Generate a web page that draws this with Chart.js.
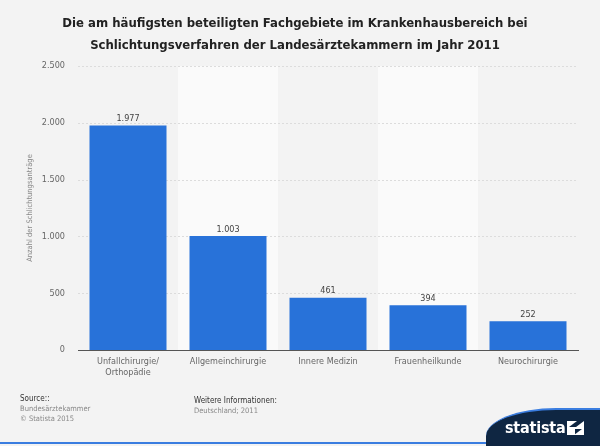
<!DOCTYPE html>
<html><head><meta charset="utf-8">
<script src="https://cdn.jsdelivr.net/npm/chart.js@4"></script>
<style>
html,body{margin:0;padding:0;background:#f3f3f3;}
#wrap{position:relative;width:600px;height:446px;overflow:hidden;font-family:"DejaVu Sans Condensed","DejaVu Sans",sans-serif;}
#title{position:absolute;top:12px;left:0;width:590px;text-align:center;font-weight:bold;font-size:13px;line-height:22px;color:#222;}
canvas{position:absolute;left:0;top:0;}
.ft{position:absolute;font-size:7.5px;color:#888;line-height:10px;}
.ft b{font-weight:normal;color:#333;font-size:8px;}
#bar{position:absolute;left:0;top:442px;width:600px;height:2px;background:#3a7de0;}
#logo{position:absolute;left:486px;top:408px;width:140px;height:40px;background:#0f2642;border-top-left-radius:70px 28px;border-top:2px solid #3a7de0;}
#logotxt{position:absolute;left:505px;top:418px;color:#fff;font-weight:bold;font-size:16px;letter-spacing:-0.2px;}
</style></head>
<body><div id="wrap">
<canvas id="c" width="600" height="446"></canvas>
<div id="title">Die am häufigsten beteiligten Fachgebiete im Krankenhausbereich bei<br>Schlichtungsverfahren der Landesärztekammern im Jahr 2011</div>
<div class="ft" style="left:20px;top:394px;"><b>Source::</b><br>Bundesärztekammer<br>© Statista 2015</div>
<div class="ft" style="left:194px;top:396px;"><b>Weitere Informationen:</b><br>Deutschland; 2011</div>
<div id="bar"></div>
<div id="logo"></div>
<div id="logotxt">statista</div>
<svg style="position:absolute;left:567px;top:421px" width="17" height="14"><polygon points="0,14 0,6 9,6 17,0 17,8 8,8 8,14" fill="#fff"/><polygon points="0,0 10,0 2,6 0,6" fill="#fff"/><polygon points="17,14 7,14 15,8 17,8" fill="#fff"/></svg>
</div>
<script>
const categories = [["Unfallchirurgie/","Orthopädie"],"Allgemeinchirurgie","Innere Medizin","Frauenheilkunde","Neurochirurgie"];
const values = [1977,1003,461,394,252];
const yTicks = [0,500,1000,1500,2000,2500];
const fmt = v => v.toLocaleString('de-DE');
const FONT = 'DejaVu Sans Condensed';

const bandPlugin = {
  id:'bands',
  beforeDatasetsDraw(chart){
    const {ctx, chartArea, scales:{x}} = chart;
    const w = x.getPixelForValue(1)-x.getPixelForValue(0);
    ctx.save();
    ctx.fillStyle='#fafafa';
    for(let i=1;i<categories.length;i+=2){
      const cx=x.getPixelForValue(i);
      ctx.fillRect(cx-w/2, chartArea.top, w, chartArea.bottom-chartArea.top);
    }
    const y=chart.scales.y;
    ctx.strokeStyle='#dcdcdc';ctx.setLineDash([2,2]);ctx.lineWidth=1;
    yTicks.forEach(t=>{ if(t===0)return; const py=Math.round(y.getPixelForValue(t))+0.5; ctx.beginPath();ctx.moveTo(chartArea.left,py);ctx.lineTo(chartArea.right,py);ctx.stroke();});
    ctx.restore();
  }
};
const labelPlugin = {
  id:'vals',
  afterDatasetsDraw(chart){
    const {ctx}=chart;
    const meta=chart.getDatasetMeta(0);
    ctx.save();
    ctx.font='9px "'+FONT+'"';ctx.fillStyle='#444';ctx.textAlign='center';ctx.textBaseline='bottom';
    meta.data.forEach((b,i)=>ctx.fillText(fmt(values[i]),b.x,b.y-2));
    ctx.restore();
  }
};
new Chart(document.getElementById('c'),{
  type:'bar',
  data:{labels:categories,datasets:[{data:values,backgroundColor:'#2872d9',barPercentage:0.77,categoryPercentage:1}]},
  options:{
    responsive:false,animation:false,
    layout:{padding:{top:66,right:22,bottom:50,left:26}},
    plugins:{legend:{display:false},tooltip:{enabled:false}},
    scales:{
      x:{grid:{display:false,drawTicks:false},border:{color:'#555',width:1},
         ticks:{color:'#666',font:{size:9,family:FONT},padding:6,maxRotation:0,autoSkip:false},
         afterFit(s){s.height=46;}},
      y:{min:0,max:2500,afterBuildTicks(s){s.ticks=yTicks.map(v=>({value:v}));},
         grid:{display:false,drawTicks:false},border:{display:false},
         ticks:{color:'#666',font:{size:9,family:FONT},padding:13,callback:v=>fmt(v)},
         title:{display:true,text:'Anzahl der Schlichtungsanträge',color:'#888',font:{size:7.5,family:FONT},padding:{top:0,bottom:6}},
         afterFit(s){s.width=52;}}
    }
  },
  plugins:[bandPlugin,labelPlugin]
});
</script>
</body></html>
